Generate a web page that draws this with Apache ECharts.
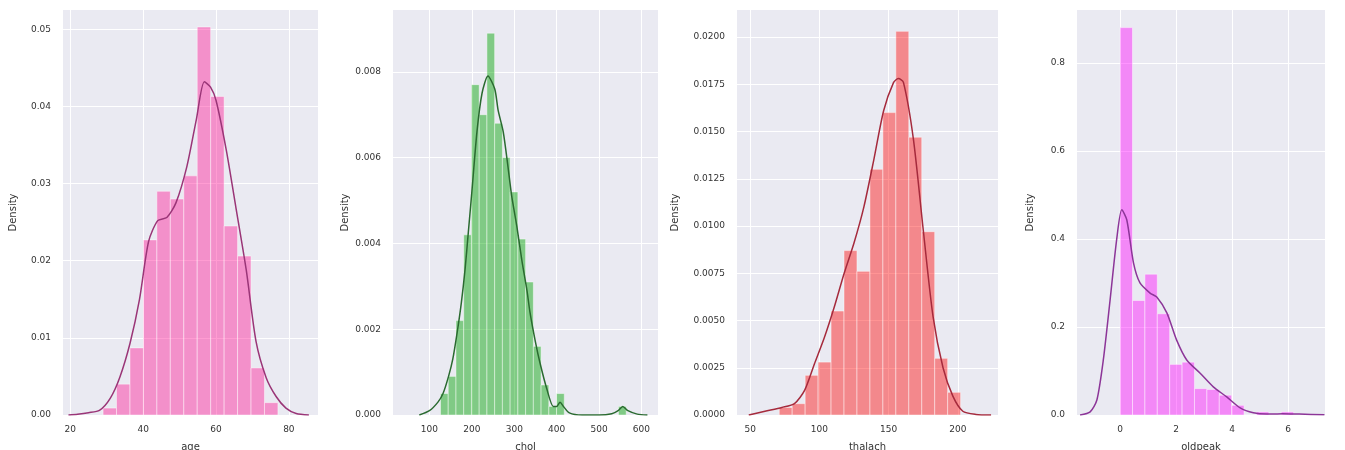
<!DOCTYPE html>
<html><head><meta charset="utf-8">
<script src="https://cdn.jsdelivr.net/npm/echarts@6/dist/echarts.min.js"></script>
<style>html,body{margin:0;padding:0;background:#fff}#c{width:1345px;height:450px}</style>
</head><body><div id="c"></div>
<script>
// ---- age ----
const ageRange = [29, 77];
const ageDensity = [0.0009, 0.0040, 0.0087, 0.0227, 0.0290, 0.0280, 0.0310, 0.0503, 0.0413, 0.0245, 0.0206, 0.0061, 0.0016];
const ageKdeX = [19.5, 22, 25, 28, 31, 33.6, 36.4, 39, 41.5, 44, 46.5, 49, 52, 54.6, 56.8, 58.5, 60, 62.8, 65.5, 68.3, 71, 73.8, 76.5, 79.2, 82, 85.5];
const ageKdeY = [0, 0.0001, 0.0003, 0.0006, 0.0022, 0.0049, 0.0093, 0.0150, 0.0225, 0.0252, 0.0256, 0.0275, 0.0322, 0.0383, 0.0432, 0.0425, 0.0408, 0.0344, 0.0268, 0.0188, 0.0095, 0.0048, 0.0024, 0.0009, 0.0002, 0];
const ageXTicks = [20, 40, 60, 80];
const ageYTicks = [0, 0.01, 0.02, 0.03, 0.04, 0.05];

// ---- chol ----
const cholRange = [126, 564];
const cholDensity = [0.0005, 0.0009, 0.0022, 0.0042, 0.0077, 0.0070, 0.0089, 0.0068, 0.0060, 0.0052, 0.0041, 0.0031, 0.0016, 0.0007, 0.0002, 0.0005, 0, 0, 0, 0, 0, 0, 0, 0.0002];
const cholKdeX = [76, 100, 120, 132, 145, 155, 165, 175, 184, 192, 200, 212, 224, 238, 254, 262, 274, 285, 294, 306, 318, 330, 337, 350, 361, 377, 392, 400, 408, 416, 430, 460, 500, 530, 545, 556, 568, 590, 614];
const cholKdeY = [0, 0.0001, 0.0003, 0.0005, 0.0009, 0.0013, 0.0019, 0.0026, 0.0034, 0.0043, 0.0052, 0.0066, 0.0075, 0.0079, 0.0076, 0.0071, 0.0066, 0.0058, 0.0051, 0.0044, 0.0036, 0.0029, 0.0024, 0.0017, 0.0012, 0.0006, 0.0002, 0.0002, 0.0003, 0.0002, 0.00005, 0, 0, 0.00003, 0.0001, 0.0002, 0.0001, 0.00002, 0];
const cholXTicks = [100, 200, 300, 400, 500, 600];
const cholYTicks = [0, 0.002, 0.004, 0.006, 0.008];

// ---- thalach ----
const thalRange = [71, 202];
const thalDensity = [0.0004, 0.0006, 0.0021, 0.0028, 0.0055, 0.0087, 0.0076, 0.0130, 0.0160, 0.0203, 0.0147, 0.0097, 0.0030, 0.0012];
const thalKdeX = [49, 60.7, 72.9, 82, 89.3, 96.4, 103.6, 110.7, 117.9, 125, 132.1, 139.3, 146.4, 153.6, 157, 160.7, 167.9, 175, 182.1, 189.3, 196.4, 203.6, 213, 224];
const thalKdeY = [0, 0.0002, 0.0004, 0.0006, 0.0013, 0.0027, 0.0041, 0.0057, 0.0075, 0.0091, 0.0110, 0.0135, 0.0161, 0.0176, 0.0178, 0.0176, 0.0146, 0.0098, 0.0052, 0.0025, 0.0010, 0.0002, 0.00003, 0];
const thalXTicks = [50, 100, 150, 200];
const thalYTicks = [0, 0.0025, 0.005, 0.0075, 0.01, 0.0125, 0.015, 0.0175, 0.02];

// ---- oldpeak ----
const oldRange = [0, 6.2];
const oldDensity = [0.88, 0.26, 0.32, 0.23, 0.115, 0.12, 0.06, 0.058, 0.045, 0.022, 0, 0.007, 0, 0.007];
const oldKdeX = [-1.43, -1.07, -0.83, -0.6, -0.36, -0.12, 0.06, 0.24, 0.48, 0.71, 1.07, 1.31, 1.67, 2.02, 2.38, 2.86, 3.33, 3.81, 4.29, 4.76, 5.24, 5.8, 6.4, 7.3];
const oldKdeY = [0, 0.007, 0.034, 0.125, 0.26, 0.40, 0.466, 0.443, 0.345, 0.30, 0.277, 0.268, 0.232, 0.17, 0.125, 0.095, 0.064, 0.041, 0.016, 0.005, 0.002, 0.003, 0.002, 0.0005];
const oldXTicks = [0, 2, 4, 6];
const oldYTicks = [0, 0.2, 0.4, 0.6, 0.8];

const panels = [
  {name:'age', range:ageRange, dens:ageDensity, kx:ageKdeX, ky:ageKdeY, xt:ageXTicks, yt:ageYTicks, xmin:18, xmax:88, ymax:0.0525, ydec:2,
   grid:{left:63, width:255}, fill:'rgba(255,20,147,0.42)', line:'#9a3577', yGap:45},
  {name:'chol', range:cholRange, dens:cholDensity, kx:cholKdeX, ky:cholKdeY, xt:cholXTicks, yt:cholYTicks, xmin:14, xmax:639, ymax:0.00944, ydec:3,
   grid:{left:393, width:265}, fill:'rgba(0,165,0,0.45)', line:'#2a6a30', yGap:43},
  {name:'thalach', range:thalRange, dens:thalDensity, kx:thalKdeX, ky:thalKdeY, xt:thalXTicks, yt:thalYTicks, xmin:40.5, xmax:229, ymax:0.02143, ydec:4,
   grid:{left:737, width:261}, fill:'rgba(255,0,0,0.42)', line:'#a52a3c', yGap:57},
  {name:'oldpeak', range:oldRange, dens:oldDensity, kx:oldKdeX, ky:oldKdeY, xt:oldXTicks, yt:oldYTicks, xmin:-1.54, xmax:7.32, ymax:0.92, ydec:1,
   grid:{left:1077, width:248}, fill:'rgba(255,0,255,0.42)', line:'#8c3598', yGap:42}
];

const txt = '#333';
const grids = [], xAxes = [], yAxes = [], series = [];
panels.forEach((p, i) => {
  grids.push({left:p.grid.left, width:p.grid.width, top:10, bottom:35, show:true, backgroundColor:'#EAEAF2', borderWidth:0,
    containLabel:false, outerBoundsMode:'none'});
  xAxes.push({type:'value', gridIndex:i, min:p.xmin, max:p.xmax, name:p.name, nameLocation:'middle', nameGap:27,
    nameTextStyle:{color:txt, fontSize:10, fontFamily:'DejaVu Sans'},
    axisLine:{show:false}, axisTick:{show:false, customValues:p.xt},
    axisLabel:{customValues:p.xt, color:txt, fontSize:9, fontFamily:'DejaVu Sans', margin:10},
    splitLine:{show:true, lineStyle:{color:'#ffffff', width:1}}});
  yAxes.push({type:'value', gridIndex:i, min:0, max:p.ymax, name:'Density', nameLocation:'middle', nameGap:p.yGap,
    nameTextStyle:{color:txt, fontSize:10, fontFamily:'DejaVu Sans'},
    axisLine:{show:false}, axisTick:{show:false, customValues:p.yt},
    axisLabel:{customValues:p.yt, color:txt, fontSize:9, fontFamily:'DejaVu Sans', margin:12, formatter:v=>v.toFixed(p.ydec)},
    splitLine:{show:true, lineStyle:{color:'#ffffff', width:1}}});
  const n = p.dens.length, w = (p.range[1]-p.range[0])/n;
  const bins = p.dens.map((d, k) => [p.range[0]+k*w, p.range[0]+(k+1)*w, d]);
  series.push({type:'custom', xAxisIndex:i, yAxisIndex:i, data:bins, encode:{x:[0,1], y:2}, silent:true,
    renderItem:(params, api) => {
      const a = api.coord([api.value(0), api.value(2)]);
      const b = api.coord([api.value(1), 0]);
      return {type:'rect', shape:{x:a[0], y:a[1], width:b[0]-a[0], height:b[1]-a[1]},
        style:{fill:p.fill, stroke:'rgba(255,255,255,0.45)', lineWidth:1}};
    }});
  series.push({type:'line', xAxisIndex:i, yAxisIndex:i, data:p.kx.map((x,k)=>[x, p.ky[k]]), showSymbol:false, smooth:0.25,
    lineStyle:{color:p.line, width:1.5}, silent:true, z:3});
});

const chart = echarts.init(document.getElementById('c'), null, {renderer:'canvas'});
chart.setOption({animation:false, backgroundColor:'#ffffff', grid:grids, xAxis:xAxes, yAxis:yAxes, series:series});
</script></body></html>
